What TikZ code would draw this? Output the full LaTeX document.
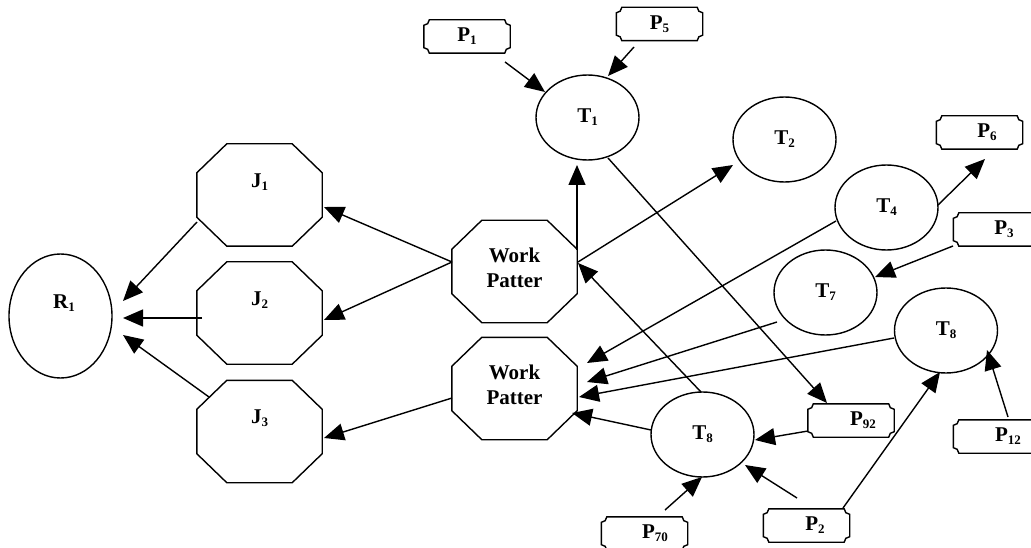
\documentclass[tikz,border=0pt]{standalone}
\usepackage{fontspec}
\setmainfont{Liberation Serif}
\usetikzlibrary{arrows.meta,shapes.geometric}

% lowered small index, as in T_1
\newcommand\lowsub[1]{\raisebox{-3pt}{\fontsize{13}{13}\selectfont #1}}

% chamfered outline around a named rectangle node
\newcommand\octagon[1]{%
  \draw[outline,line join=miter]
    ([xshift=30pt]#1.north west) -- ([xshift=-30pt]#1.north east)
    -- ([yshift=-29pt]#1.north east) -- ([yshift=29pt]#1.south east)
    -- ([xshift=-30pt]#1.south east) -- ([xshift=30pt]#1.south west)
    -- ([yshift=29pt]#1.south west) -- ([yshift=-29pt]#1.north west) -- cycle;}

% plaque outline (concave corners) around a named rectangle node
\newcommand\plaque[1]{%
  \draw[outline]
    ([xshift=5.5pt]#1.north west) -- ([xshift=-5.5pt]#1.north east)
    arc[start angle=180,end angle=270,radius=5.5pt]
    -- ([yshift=5.5pt]#1.south east)
    arc[start angle=90,end angle=180,radius=5.5pt]
    -- ([xshift=5.5pt]#1.south west)
    arc[start angle=0,end angle=90,radius=5.5pt]
    -- ([yshift=-5.5pt]#1.north west)
    arc[start angle=270,end angle=360,radius=5.5pt] -- cycle;}

% arrow from a point near node #1 to a point near node #3
\newcommand\joinarrow[4]{\draw[link] ([shift={#2}]#1.center) -- ([shift={#4}]#3.center);}

\tikzset{
  every node/.style={font=\fontsize{21}{25}\selectfont\bfseries, inner sep=0pt},
  outline/.style={draw=black, line width=1.4pt},
  oval/.style={ellipse, outline, minimum width=103pt, minimum height=85pt},
  octbox/.style={rectangle, minimum width=125pt, minimum height=102pt},
  pbox/.style={rectangle, minimum width=86pt, minimum height=33pt},
  link/.style={line width=1.4pt, -{Triangle[length=20pt,width=17pt]}},
}

\begin{document}
\begin{tikzpicture}[x=1pt,y=-1pt]
\clip (0,0) rectangle (1031,548);
\fill[white] (0,0) rectangle (1031,548);

% result
\node[oval, minimum height=124pt, label={[xshift=3.5pt,yshift=13pt]center:R\lowsub{1}}] (R1) at (60.5,316) {};

% jobs
\node[octbox, label={[yshift=13pt]center:J\lowsub{1}}] (J1) at (259.5,195) {};
\node[octbox, label={[yshift=13pt]center:J\lowsub{2}}] (J2) at (259.5,313) {};
\node[octbox, label={[yshift=13pt]center:J\lowsub{3}}] (J3) at (259.5,431.5) {};

% work patterns
\node[octbox, label={[align=center,yshift=4pt]center:Work\\Patter}] (WP1) at (514.5,271.5) {};
\node[octbox, label={[align=center,yshift=4pt]center:Work\\Patter}] (WP2) at (514.5,388.5) {};

\foreach \n in {J1,J2,J3,WP1,WP2} {\octagon{\n}}

% tasks
\node[oval] (T1) at (587.5,117.5) {T\lowsub{1}};
\node[oval] (T2) at (784.5,139.5) {T\lowsub{2}};
\node[oval] (T4) at (886.5,207.5) {T\lowsub{4}};
\node[oval] (T7) at (825.5,292.5) {T\lowsub{7}};
\node[oval] (T8r) at (946,330.5) {T\lowsub{8}};
\node[oval] (T8l) at (702.5,434.5) {T\lowsub{8}};

% parameters
\node[pbox, label={center:P\lowsub{1}}] (P1) at (467,36.5) {};
\node[pbox, label={center:P\lowsub{5}}] (P5) at (659.5,24) {};
\node[pbox, label={[xshift=7.5pt]center:P\lowsub{6}}] (P6) at (979.5,132.5) {};
\node[pbox, label={[xshift=7.5pt]center:P\lowsub{3}}] (P3) at (996.5,229.5) {};
\node[pbox, label={[xshift=11.5pt]center:P\lowsub{12}}] (P12) at (996.5,436.5) {};
\node[pbox, label={[xshift=12pt]center:P\lowsub{92}}] (P92) at (851,420.5) {};
\node[pbox, label={[xshift=8.5pt]center:P\lowsub{2}}] (P2) at (806.5,525.5) {};
\node[pbox, label={[xshift=10.5pt]center:P\lowsub{70}}] (P70) at (644.5,533.5) {};

\foreach \n in {P1,P5,P6,P3,P12,P92,P2,P70} {\plaque{\n}}

% connectors
\joinarrow{J1}{(-62.5,27)}{R1}{(62.5,-15)}
\joinarrow{J2}{(-57.5,5)}{R1}{(62.5,2)}
\joinarrow{J3}{(-50.5,-34.5)}{R1}{(62.5,19)}

\joinarrow{WP1}{(-62.5,-9.5)}{J1}{(64.5,12)}
\joinarrow{WP1}{(-62.5,-9.5)}{J2}{(64.5,7)}
\joinarrow{WP2}{(-62.5,9.5)}{J3}{(64.5,6.5)}

\joinarrow{WP1}{(62.5,-21.5)}{T1}{(-10.5,47.5)}
\joinarrow{WP1}{(63.5,-9.5)}{T2}{(-51.5,25.5)}
\joinarrow{T8l}{(-1.5,-42.5)}{WP1}{(63.5,-8.5)}

\joinarrow{T1}{(20.5,40.5)}{P92}{(-24,-17.5)}
\joinarrow{T4}{(-50.5,13.5)}{WP2}{(72.5,-25.5)}
\joinarrow{T7}{(-48.5,29.5)}{WP2}{(72.5,-6.5)}
\joinarrow{T8r}{(-52,7.5)}{WP2}{(64.5,8.5)}
\joinarrow{T8l}{(-51.5,-4.5)}{WP2}{(57.5,24.5)}

\joinarrow{P3}{(-43.5,16.5)}{T7}{(49.5,-15.5)}
\joinarrow{T4}{(51.5,-2.5)}{P6}{(5.5,26.5)}
\joinarrow{P12}{(11.5,-19.5)}{T8r}{(41,19.5)}
\joinarrow{P2}{(36.5,-17.5)}{T8r}{(-6,41.5)}
\joinarrow{P92}{(-43,10.5)}{T8l}{(52.5,5.5)}
\joinarrow{P2}{(-9.5,-27.5)}{T8l}{(42.5,30.5)}
\joinarrow{P70}{(20.5,-23.5)}{T8l}{(-0.5,42.5)}
\joinarrow{P1}{(38,25.5)}{T1}{(-42.5,-25.5)}
\joinarrow{P5}{(-25.5,23)}{T1}{(20.5,-41.5)}
\end{tikzpicture}
\end{document}
